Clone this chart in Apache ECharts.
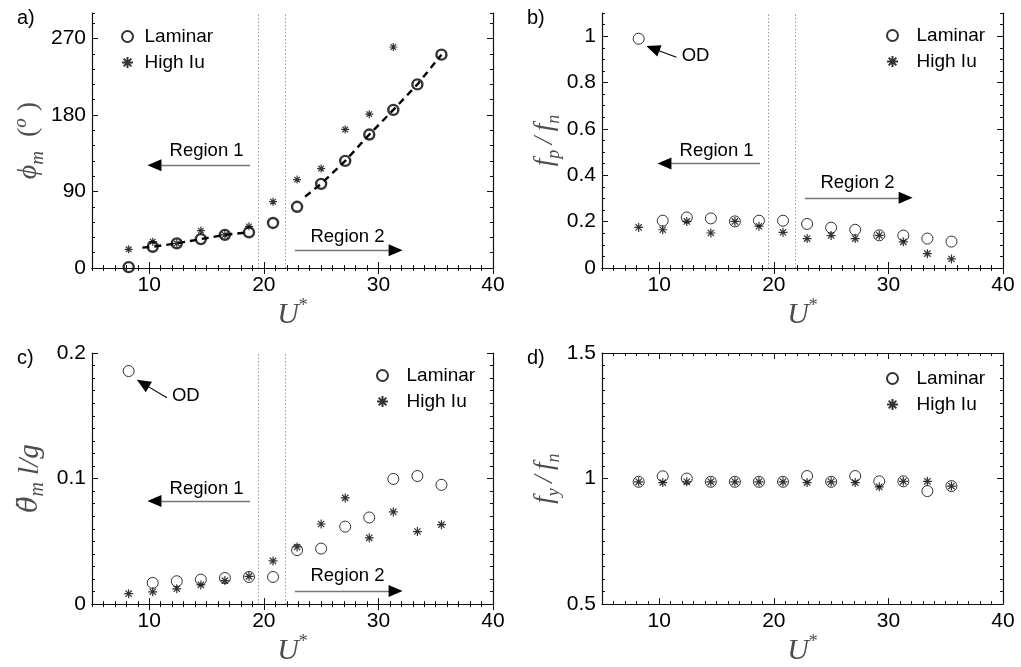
<!DOCTYPE html>
<html><head><meta charset="utf-8">
<script src="https://cdn.jsdelivr.net/npm/echarts@6/dist/echarts.min.js"></script>
<style>html,body{margin:0;padding:0;background:#fff}#c{width:1021px;height:667px}</style>
</head><body><div id="c"></div>
<script>
// ---------- data ----------
const uStar = [8.2, 10.3, 12.4, 14.5, 16.6, 18.7, 20.8, 22.9, 25.0, 27.1, 29.2, 31.3, 33.4, 35.5];
const phiLaminar = [1, 25, 29, 34, 39, 42, 53, 72, 99, 126, 157, 186, 216, 251];
const phiHighIu = [22, 31, 29, 44, 39, 49, 78, 104, 117, 163, 181, 260, null, null];
const phiFit1X = [9.4, 10.3, 12.4, 14.5, 16.6, 18.7];
const phiFit1Y = [24, 25, 29, 34, 39, 42];
const phiFit2X = [23.6, 25.0, 27.1, 29.2, 31.3, 33.4, 35.5];
const phiFit2Y = [84, 99, 126, 157, 186, 216, 251];
const fpLaminar = [0.989, 0.204, 0.218, 0.214, 0.201, 0.204, 0.204, 0.190, 0.174, 0.165, 0.141, 0.140, 0.127, 0.114];
const fpHighIu = [0.175, 0.165, 0.201, 0.151, 0.201, 0.180, 0.154, 0.127, 0.140, 0.127, 0.141, 0.113, 0.062, 0.039];
const accLaminar = [0.1856, 0.0169, 0.0182, 0.0195, 0.0208, 0.0216, 0.0216, 0.0430, 0.0442, 0.0617, 0.0690, 0.0997, 0.1020, 0.0950];
const accHighIu = [0.0083, 0.0098, 0.0122, 0.0153, 0.0187, 0.0221, 0.0344, 0.0455, 0.0638, 0.0846, 0.0528, 0.0734, 0.0578, 0.0633];
const fyLaminar = [0.987, 1.009, 1.000, 0.987, 0.987, 0.987, 0.987, 1.010, 0.987, 1.010, 0.989, 0.989, 0.950, 0.970];
const fyHighIu = [0.987, 0.984, 0.987, 0.987, 0.987, 0.987, 0.987, 0.984, 0.987, 0.984, 0.967, 0.989, 0.989, 0.970];
const xTicks = [10, 20, 30, 40];
const phiTicks = [0, 90, 180, 270];
const fpTicks = [0, 0.2, 0.4, 0.6, 0.8, 1];
const accTicks = [0, 0.1, 0.2];
const fyTicks = [0.5, 1, 1.5];
const regionBounds = [19.5, 21.9];
// annotation anchors (data units) for panels a, b, c
const region1ArrowX = [18.8, 10.45];
const region2ArrowX = [22.7, 31.5];
const regionTextX = [15.0, 27.3];
const region1ArrowY = [121, 0.451, 0.0822];
const region1TextY = [138, 0.506, 0.092];
const region2ArrowY = [21, 0.303, 0.0104];
const region2TextY = [36, 0.369, 0.0221];
const odTail = [[11.5, 0.909], [11.54, 0.1643]];
const odHead = [[9.44, 0.947], [9.44, 0.1758]];
const odLabel = [[11.95, 0.915], [11.98, 0.1656]];

// ---------- styling ----------
const FONT = "'Liberation Sans', Arial, sans-serif";
const SERIF = "'Liberation Serif','DejaVu Serif',serif";
const TC = '#4d4d4d';
const starPath = 'path://M5 0L5 10M0 5L10 5M1.5 1.5L8.5 8.5M1.5 8.5L8.5 1.5';

function richTitle(size) {
  return {
    i: {fontFamily: SERIF, fontStyle: 'italic', fontSize: size, color: TC, lineHeight: 36, verticalAlign: 'middle'},
    t: {fontFamily: "'DejaVu Serif', serif", fontStyle: 'italic', fontSize: size - 2, color: TC, lineHeight: 36, verticalAlign: 'middle'},
    s: {fontFamily: SERIF, fontStyle: 'italic', fontSize: Math.round(size * 0.68), color: TC, lineHeight: 20, verticalAlign: 'bottom'},
    sup: {fontFamily: SERIF, fontStyle: 'italic', fontSize: Math.round(size * 0.68), color: TC, lineHeight: 20, verticalAlign: 'top'},
    p: {fontFamily: SERIF, fontSize: size, color: TC, lineHeight: 36, verticalAlign: 'middle'}
  };
}

const panels = [
  {tag: 'a)', left: 92, top: 13, yMin: 0, yMax: 300, yMinor: 18, yTicks: phiTicks, lam: phiLaminar, high: phiHighIu,
   yName: '{i|ϕ}{s|m}{p|  (}{sup|o}{p| )}', yFont: 28, yGap: 44, bold: true, legendLeft: 116, legendTop: 22, legendW: 24, ann: 0},
  {tag: 'b)', left: 602, top: 13, yMin: 0, yMax: 1.1, yMinor: 0.05, yTicks: fpTicks, lam: fpLaminar, high: fpHighIu,
   yName: '{i|f}{s|p}{i|\u2009/\u2009f}{s|n}', yFont: 27, yGap: 36, bold: false, legendLeft: 881, legendTop: 21, legendW: 38, ann: 1, od: 0},
  {tag: 'c)', left: 92, top: 353, yMin: 0, yMax: 0.2, yMinor: 0.01, yTicks: accTicks, lam: accLaminar, high: accHighIu,
   yName: '{t|θ̈}{s|m}{i| l/g}', yFont: 29, yGap: 44, bold: false, legendLeft: 371, legendTop: 361, legendW: 38, ann: 2, od: 1},
  {tag: 'd)', left: 602, top: 353, yMin: 0.5, yMax: 1.5, yMinor: 0.05, yTicks: fyTicks, lam: fyLaminar, high: fyHighIu,
   yName: '{i|f}{s|y}{i|\u2009/\u2009f}{s|n}', yFont: 27, yGap: 36, bold: false, legendLeft: 881, legendTop: 364, legendW: 38, ann: null}
];

const W = 401, H = 255;
const grids = [], xAxes = [], yAxes = [], series = [], legends = [], graphics = [];
const lineC = {color: '#111', width: 1.2};
const tickC = {color: '#111', width: 1};

panels.forEach((p, gi) => {
  grids.push({left: p.left, top: p.top, width: W, height: H});
  const base = {gridIndex: gi, type: 'value', splitLine: {show: false}, min: 5, max: 40};
  xAxes.push(Object.assign({}, base, {position: 'bottom', interval: 1, axisLine: {show: true, lineStyle: lineC},
    axisTick: {inside: true, length: 3, lineStyle: tickC}, axisLabel: {show: false}}));
  xAxes.push(Object.assign({}, base, {position: 'bottom', interval: 5, axisLine: {show: false},
    axisTick: {inside: true, length: 6, lineStyle: tickC, customValues: xTicks},
    axisLabel: {customValues: xTicks, color: '#000', fontSize: 21, fontFamily: FONT, margin: 7},
    name: '{i|U}{sup|*}', nameLocation: 'middle', nameGap: 28,
    nameTextStyle: {rich: Object.assign(richTitle(30), {sup: {fontFamily: SERIF, fontSize: 18, color: TC, lineHeight: 18, verticalAlign: 'top'}})}}));
  xAxes.push(Object.assign({}, base, {position: 'top', interval: 1, axisLine: {show: true, lineStyle: lineC},
    axisTick: {inside: true, length: 3, lineStyle: tickC}, axisLabel: {show: false}}));
  xAxes.push(Object.assign({}, base, {position: 'top', interval: 5, axisLine: {show: false},
    axisTick: {inside: true, length: 6, lineStyle: tickC, customValues: xTicks}, axisLabel: {show: false}}));
  const yb = {gridIndex: gi, type: 'value', splitLine: {show: false}, min: p.yMin, max: p.yMax};
  yAxes.push(Object.assign({}, yb, {position: 'left', interval: p.yMinor, axisLine: {show: true, lineStyle: lineC},
    axisTick: {inside: true, length: 3, lineStyle: tickC}, axisLabel: {show: false}}));
  yAxes.push(Object.assign({}, yb, {position: 'left', axisLine: {show: false},
    axisTick: {inside: true, length: 6, lineStyle: tickC, customValues: p.yTicks},
    axisLabel: {customValues: p.yTicks, color: '#000', fontSize: 21, fontFamily: FONT, margin: 6},
    name: p.yName, nameLocation: 'middle', nameRotate: 90, nameGap: p.yGap,
    nameTextStyle: {rich: richTitle(p.yFont)}}));
  yAxes.push(Object.assign({}, yb, {position: 'right', interval: p.yMinor, axisLine: {show: true, lineStyle: lineC},
    axisTick: {inside: true, length: 3, lineStyle: tickC}, axisLabel: {show: false}}));
  yAxes.push(Object.assign({}, yb, {position: 'right', axisLine: {show: false},
    axisTick: {inside: true, length: 6, lineStyle: tickC, customValues: p.yTicks}, axisLabel: {show: false}}));

  const xi = gi * 4 + 1, yi = gi * 4 + 1;
  const pairs = arr => uStar.map((u, k) => arr[k] == null ? null : [u, arr[k]]).filter(d => d);
  const suffix = ' (' + p.tag + ')';

  if (p.tag === 'a)') {
    [[phiFit1X, phiFit1Y], [phiFit2X, phiFit2Y]].forEach(([fx, fy]) => {
      series.push({type: 'line', xAxisIndex: xi, yAxisIndex: yi, data: fx.map((x, k) => [x, fy[k]]),
        showSymbol: false, symbol: 'none', lineStyle: {color: '#000', width: 2.4, type: [7, 5]}, z: 1, silent: true});
    });
  }
  series.push({name: 'Laminar' + suffix, type: 'scatter', xAxisIndex: xi, yAxisIndex: yi, data: pairs(p.lam),
    symbol: 'circle', symbolSize: p.bold ? 10 : 11,
    itemStyle: {color: 'rgba(0,0,0,0)', borderColor: '#000', borderWidth: p.bold ? 2.4 : 1}, z: 3});
  series.push({name: 'High Iu' + suffix, type: 'scatter', xAxisIndex: xi, yAxisIndex: yi, data: pairs(p.high),
    symbol: starPath, symbolSize: p.bold ? 8 : 9,
    itemStyle: {color: 'rgba(0,0,0,0)', borderColor: '#000', borderWidth: 1.2}, z: 4});

  legends.push({orient: 'vertical', left: p.legendLeft, top: p.legendTop, itemWidth: p.legendW, itemHeight: 11,
    itemGap: 7, selectedMode: false, data: ['Laminar' + suffix, 'High Iu' + suffix],
    formatter: n => n.split(' (')[0], textStyle: {fontSize: 19, fontFamily: FONT, color: '#000'}});

  if (p.ann !== null) {
    const k = p.ann;
    const grayLine = {color: '#777', width: 1.3, type: 'solid'};
    const blackLine = {color: '#000', width: 1.2, type: 'solid'};
    const headBlack = (from, to) => [
      {coord: from, symbol: 'none', lineStyle: blackLine},
      {coord: to, symbol: 'triangle', symbolSize: [12, 14]}];
    const mlData = [
      {xAxis: regionBounds[0], lineStyle: {color: '#999', type: [1.5, 2], width: 1}},
      {xAxis: regionBounds[1], lineStyle: {color: '#999', type: [1.5, 2], width: 1}},
      [{coord: [region1ArrowX[0], region1ArrowY[k]], symbol: 'none', lineStyle: grayLine},
       {coord: [region1ArrowX[1], region1ArrowY[k]], symbol: 'none'}],
      headBlack([region1ArrowX[1] + 0.3, region1ArrowY[k]], [region1ArrowX[1], region1ArrowY[k]]),
      [{coord: [region2ArrowX[0], region2ArrowY[k]], symbol: 'none', lineStyle: grayLine},
       {coord: [region2ArrowX[1], region2ArrowY[k]], symbol: 'none'}],
      headBlack([region2ArrowX[1] - 0.3, region2ArrowY[k]], [region2ArrowX[1], region2ArrowY[k]])
    ];
    const mpData = [
      {name: 'Region 1', coord: [regionTextX[0], region1TextY[k]]},
      {name: 'Region 2', coord: [regionTextX[1], region2TextY[k]]}
    ];
    if (p.od !== undefined) {
      const o = p.od;
      mlData.push([{coord: odTail[o], symbol: 'none', lineStyle: {color: '#000', width: 1.1, type: 'solid'}},
                   {coord: odHead[o], symbol: 'triangle', symbolSize: [12, 14]}]);
      mpData.push({name: 'OD', coord: odLabel[o], label: {position: 'right', distance: 0}});
    }
    series.push({type: 'scatter', xAxisIndex: xi, yAxisIndex: yi, data: [], silent: true, z: 2,
      markLine: {silent: true, symbol: ['none', 'none'], animation: false, label: {show: false},
        lineStyle: {color: '#000', type: 'solid'}, data: mlData},
      markPoint: {silent: true, symbol: 'rect', symbolSize: 0, animation: false,
        label: {show: true, position: 'inside', formatter: d => d.name, color: '#000', fontSize: 18.5, fontFamily: FONT},
        data: mpData}});
  }

  graphics.push({type: 'text', left: p.left - 75, top: p.top - 5,
    style: {text: p.tag, fill: '#000', font: '20px ' + FONT}});
});

const chart = echarts.init(document.getElementById('c'), null, {renderer: 'canvas'});
chart.setOption({
  animation: false,
  backgroundColor: '#fff',
  grid: grids, xAxis: xAxes, yAxis: yAxes, series: series, legend: legends, graphic: graphics
});
</script></body></html>
